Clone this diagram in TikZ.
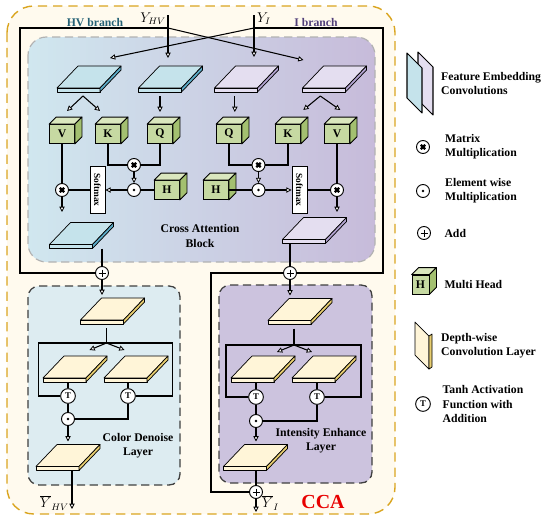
\documentclass[tikz,border=0pt]{standalone}
\usepackage{fontspec}
\setmainfont{Liberation Serif}
\usetikzlibrary{arrows.meta,positioning,calc}
\definecolor{ccagold}{RGB}{218,165,32}
\definecolor{ccacream}{RGB}{255,250,238}
\definecolor{hvblue}{RGB}{208,231,239}
\definecolor{ipurple}{RGB}{199,187,218}
\definecolor{cdlfill}{RGB}{221,236,241}
\definecolor{ielfill}{RGB}{204,195,222}
\definecolor{cubefront}{RGB}{198,217,162}
\definecolor{cubetop}{RGB}{218,231,190}
\definecolor{cubeshade}{RGB}{163,192,112}
\definecolor{hvtop}{RGB}{197,227,235}
\definecolor{hvside}{RGB}{92,172,200}
\definecolor{itop}{RGB}{228,222,240}
\definecolor{iside}{RGB}{178,163,208}
\definecolor{dwtop}{RGB}{255,245,216}
\definecolor{dwside}{RGB}{232,206,112}
\definecolor{hvtext}{RGB}{38,98,118}
\definecolor{itext}{RGB}{82,64,122}
\definecolor{ccared}{RGB}{232,0,0}

\newcommand{\cubefaces}[1]{%
  \draw[line width=0.7pt, line join=round, fill=cubetop] (#1.north west) -- ++(7,-7) -- ([shift={(7,-7)}]#1.north east) -- (#1.north east) -- cycle;
  \draw[line width=0.7pt, line join=round, fill=cubeshade] (#1.north east) -- ++(7,-7) -- ([shift={(7,-7)}]#1.south east) -- (#1.south east) -- cycle;}

\begin{document}
\begin{tikzpicture}[
    x=0.03cm, y=-0.03cm,
    line/.style={line width=0.9pt},
    arr/.style={line width=0.9pt, -{Triangle[length=4.5pt, width=4.5pt, fill=white, line width=0.7pt]}},
    slabline/.style={line width=0.6pt, line join=round},
    cube/.style={draw, line width=0.7pt, fill=cubefront, minimum width=0.75cm, minimum height=0.57cm, inner sep=0pt, font=\bfseries},
    op/.style={circle, draw, line width=0.8pt, fill=white, minimum size=0.39cm, inner sep=0pt},
    mulop/.style={op, path picture={\draw[black, line width=1.9pt]
        ($(path picture bounding box.center)+(-2.2,-2.2)$) -- ($(path picture bounding box.center)+(2.2,2.2)$)
        ($(path picture bounding box.center)+(-2.2,2.2)$) -- ($(path picture bounding box.center)+(2.2,-2.2)$);}},
    dotop/.style={op, path picture={\fill[black] (path picture bounding box.center) circle (1.1pt);}},
    addop/.style={op, path picture={\draw[black, line width=0.5pt] (path picture bounding box.center)
        +(-3.5,0) -- +(3.5,0) +(0,-3.5) -- +(0,3.5);}},
    tanhop/.style={op, minimum size=0.44cm, font=\fontsize{7.5}{8}\selectfont\bfseries},
    smax/.style={draw, line width=0.7pt, fill=white, rotate=-90, minimum width=1.41cm, minimum height=0.45cm, inner sep=0pt, font=\fontsize{8}{9}\selectfont\bfseries},
    lbl/.style={align=center, font=\bfseries, inner sep=0pt},
    legend/.style={align=left, font=\bfseries, inner sep=0pt},
    ylab/.style={font=\large, inner sep=0pt},
    pics/slab/.style n args={2}{code={
        \draw[slabline, fill=#1] (-32,9) -- (11,9) -- (32,-13) -- (-11,-13) -- cycle;
        \draw[slabline, fill=#1] (-32,9) -- (11,9) -- (11,13) -- (-32,13) -- cycle;
        \draw[slabline, fill=#2] (11,9) -- (32,-13) -- (32,-9) -- (11,13) -- cycle;
        \coordinate (-c) at (0,0);
        \coordinate (-s) at (-6,17);
        \coordinate (-b) at (0,13);
        \coordinate (-n) at (0,-16);
    }}
]
    \useasboundingbox (0,0) rectangle (550,522);

    % frames
    \draw[ccagold, line width=1.2pt, dash pattern=on 8pt off 5pt, fill=ccacream, rounded corners=0.8cm] (7,6) rectangle (395,514);
    \draw[gray!60, line width=1pt, dash pattern=on 7pt off 4pt, left color=hvblue, right color=ipurple, rounded corners=0.55cm] (28,37) rectangle (375,262);
    \draw[black!75, line width=1.1pt, dash pattern=on 7pt off 4pt, fill=cdlfill, rounded corners=0.33cm] (28,286) rectangle (180,485);
    \draw[black!75, line width=1.1pt, dash pattern=on 7pt off 4pt, fill=ielfill, rounded corners=0.33cm] (219,285) rectangle (372,483);

    \node[font=\bfseries, text=hvtext] (hvbr) at (95,23) {HV branch};
    \node[font=\bfseries, text=itext] (ibr) at (316,22) {I branch};

    % inputs
    \node[ylab, anchor=east] (yhvlab) at (166,19) {$Y_{HV}$};
    \node[ylab, anchor=west] (yilab) at (257,19) {$Y_{I}$};
    \coordinate (yhvin) at (168,15);
    \coordinate (yiin) at (254,15);
    \coordinate (yhvj) at (168,28);
    \coordinate (yij) at (254,28);

    % cross attention block
    \pic (p1) at (89,79) {slab={hvtop}{hvside}};
    \pic (p2) at (170.5,79) {slab={hvtop}{hvside}};
    \pic (p3) at (246.5,79) {slab={itop}{iside}};
    \pic (p4) at (334.5,79) {slab={itop}{iside}};

    \node[cube] (V1) at (62,134) {V};  \cubefaces{V1}
    \node[cube] (K1) at (108,134) {K}; \cubefaces{K1}
    \node[cube] (Q1) at (160,134) {Q}; \cubefaces{Q1}
    \node[cube] (Q2) at (229,134) {Q}; \cubefaces{Q2}
    \node[cube] (K2) at (288,134) {K}; \cubefaces{K2}
    \node[cube] (V2) at (337,134) {V}; \cubefaces{V2}
    \node[cube] (H1) at (167,190) {H}; \cubefaces{H1}
    \node[cube] (H2) at (216,190) {H}; \cubefaces{H2}

    \node[mulop] (mul1) at (134,165) {};
    \node[dotop] (dot1) at (134,190) {};
    \node[smax] (sm1) at (97.5,190) {Softmax};
    \node[mulop] (mulv1) at (62,190) {};
    \node[mulop] (mul2) at (258.5,165) {};
    \node[dotop] (dot2) at (258.5,190) {};
    \node[smax] (sm2) at (299.5,190) {Softmax};
    \node[mulop] (mulv2) at (337,190) {};

    \pic (po1) at (81.5,235.5) {slab={hvtop}{hvside}};
    \pic (po2) at (314.5,230.5) {slab={itop}{iside}};
    \node[lbl] (calbl) at (200,236) {Cross Attention\\Block};

    \node[addop] (add1) at (102,273) {};
    \node[addop] (add2) at (290,273) {};

    \draw[arr] (yhvin) -- ++(0,43);
    \draw[arr] (yiin) -- ++(0,42);
    \draw[arr] (yij) -- ([shift={(21,-21)}]p1-c);
    \draw[arr] (yhvj) -- ([shift={(-31,-19)}]p4-c);
    \draw[line] (yhvj) -- ++(-148,0) |- (add1);
    \draw[line] (yij) -- ++(129,0) |- (add2);

    \draw[arr] (p1-s) -- ++(-16,15);
    \draw[arr] (p1-s) -- ++(17,15);
    \draw[arr] (p2-s -| Q1) -- ++(0,16);
    \draw[arr] ([xshift=5pt]p3-s -| Q2) -- ++(0,16);
    \draw[arr] ([xshift=-7pt]p4-s) -- ++(-17,14);
    \draw[arr] ([xshift=-7pt]p4-s) -- ++(20,14);

    \draw[line] (K1) |- (mul1);
    \draw[line] (Q1) |- (mul1);
    \draw[arr] (mul1) -- (dot1);
    \draw[line] (H1) -- (dot1);
    \draw[arr] (dot1) -- (sm1);
    \draw[line] (sm1) -- (mulv1);
    \draw[line] (V1) -- (mulv1);
    \draw[arr] (mulv1) -- ++(0,22);

    \draw[line] (Q2) |- (mul2);
    \draw[line] (K2) |- (mul2);
    \draw[arr] (mul2) -- (dot2);
    \draw[line] (H2) -- (dot2);
    \draw[arr] (dot2) -- (sm2);
    \draw[line] (sm2) -- (mulv2);
    \draw[line] (V2) -- (mulv2);
    \draw[arr] (mulv2) -- ++(0,22);

    \draw[line] (add1 |- po1-b) -- (add1);
    \draw[line] (add2 |- po2-b) -- (add2);

    % color denoise layer
    \pic (da1) at (112.5,311) {slab={dwtop}{dwside}};
    \pic (da2) at (75,369) {slab={dwtop}{dwside}};
    \pic (da3) at (136,369) {slab={dwtop}{dwside}};
    \pic (da4) at (68,457.5) {slab={dwtop}{dwside}};
    \node[tanhop] (t1) at (68,396) {T};
    \node[tanhop] (t2) at (128,396) {T};
    \node[dotop] (dm1) at (68,419) {};
    \node[lbl] (cdllbl) at (138,446) {Color Denoise\\Layer};
    \coordinate (hvout) at (72,509);
    \node[ylab, anchor=east] (yhvoutlab) at (69,503) {$\overline{Y}_{HV}$};

    \draw[arr] (add1) -- (add1 |- da1-n);
    \draw[line] (da1-s) -- ++(0,15) coordinate (jn1);
    \draw[arr] (jn1) -- ++(-17,7);
    \draw[arr] (jn1) -- ++(18,7);
    \draw[line] (t1) -| ($(jn1)+(-68,0)$) -- ($(jn1)+(66,0)$) |- (t2);
    \draw[line] (t1 |- da2-b) -- (t1);
    \draw[line] (t2 |- da3-b) -- (t2);
    \draw[line] (t1) -- (dm1);
    \draw[line] (t2) |- (dm1);
    \draw[arr] (dm1) -- (dm1 |- da4-n);
    \draw[arr] (hvout |- da4-b) -- (hvout);

    % intensity enhance layer
    \pic (ea1) at (300,311.5) {slab={dwtop}{dwside}};
    \pic (ea2) at (263,369) {slab={dwtop}{dwside}};
    \pic (ea3) at (324,369) {slab={dwtop}{dwside}};
    \pic (ea4) at (255.5,457.5) {slab={dwtop}{dwside}};
    \node[tanhop] (t3) at (256,397) {T};
    \node[tanhop] (t4) at (317,397) {T};
    \node[dotop] (dm2) at (256,421) {};
    \node[lbl] (iellbl) at (321,440.5) {Intensity Enhance\\Layer};
    \node[addop] (add3) at (256,492) {};
    \coordinate (iout) at (256,512);
    \node[ylab, anchor=west] (yioutlab) at (262,503) {$\overline{Y}_{I}$};

    \draw[arr] (add2) -- (add2 |- ea1-n);
    \draw[line] (ea1-s) -- ++(0,16.5) coordinate (jn2);
    \draw[arr] (jn2) -- ++(-17,7);
    \draw[arr] (jn2) -- ++(18,7);
    \draw[line] (t3) -| ($(jn2)+(-68,0)$) -- ($(jn2)+(67,0)$) |- (t4);
    \draw[line] (t3 |- ea2-b) -- (t3);
    \draw[line] (t4 |- ea3-b) -- (t4);
    \draw[line] (t3) -- (dm2);
    \draw[line] (t4) |- (dm2);
    \draw[arr] (dm2) -- (dm2 |- ea4-n);
    \draw[line] (add3 |- ea4-b) -- (add3);
    \draw[arr] (add3) -- (iout);
    \draw[line] (add2) -- ++(-79,0) |- (add3);

    \node[font=\fontsize{17}{20}\selectfont\bfseries, text=ccared] (cca) at (323,502) {CCA};

    % legend
    \draw[slabline, line width=0.9pt, fill=itop] (418,52) -- (433,67) -- (433,115) -- (418,100) -- cycle;
    \draw[slabline, line width=0.9pt, fill=hvtop] (407,53) -- (422,68) -- (422,113) -- (407,98) -- cycle;
    \node[legend, anchor=west] (lgfe) at (441,83.5) {Feature Embedding\\Convolutions};

    \node[mulop] (lgmul) at (423,147) {};
    \node[legend, right=0.45cm of lgmul] (lgmultxt) {Matrix\\Multiplication};
    \node[dotop] (lgdot) at (423,191) {};
    \node[legend, right=0.45cm of lgdot] (lgdottxt) {Element wise\\Multiplication};
    \node[addop] (lgadd) at (424,233) {};
    \node[legend, right=0.4cm of lgadd] (lgaddtxt) {Add};
    \node[cube, minimum width=0.51cm] (lgh) at (420.5,284.5) {H}; \cubefaces{lgh}
    \node[legend, right=0.45cm of lgh] (lghtxt) {Multi Head};

    \draw[slabline, fill=dwtop] (415,322) -- (429,336) -- (429,369) -- (415,355) -- cycle;
    \draw[slabline, fill=dwside] (429,336) -- (432,334) -- (432,367) -- (429,369) -- cycle;
    \node[legend, anchor=west] (lgdw) at (441,345.5) {Depth-wise\\Convolution Layer};

    \node[tanhop] (lgt) at (423,404) {T};
    \node[legend, right=0.35cm of lgt] (lgttxt) {Tanh Activation\\Function with\\Addition};
\end{tikzpicture}
\end{document}
